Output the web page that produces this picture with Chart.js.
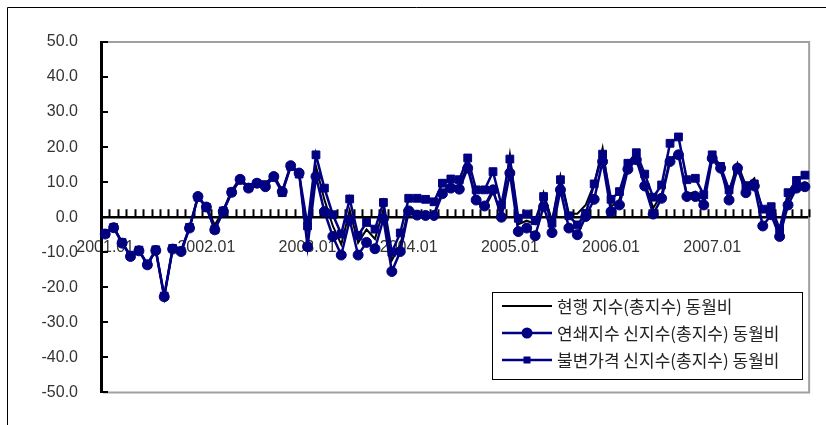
<!DOCTYPE html>
<html>
<head>
<meta charset="utf-8">
<script src="https://cdn.jsdelivr.net/npm/chart.js@4.4.1/dist/chart.umd.min.js"></script>
<style>
html, body { margin: 0; padding: 0; background: #fff; }
canvas { display: block; }
</style>
</head>
<body>
<canvas class="grafica" width="826" height="425"></canvas>
<script>
const anios = ["2001", "2002", "2003", "2004", "2005", "2006", "2007"];
const meses = ["01", "02", "03", "04", "05", "06", "07", "08", "09", "10", "11", "12"];
const etiquetas = [];
anios.forEach(a => meses.forEach(m => etiquetas.push(a + "." + m)));

const yTicks = [-50, -40, -30, -20, -10, 0, 10, 20, 30, 40, 50];

const nombres = [
    "현행 지수(총지수) 동월비",
    "연쇄지수 신지수(총지수) 동월비",
    "불변가격 신지수(총지수) 동월비"
];

// 현행 지수
const hyunhaeng = [
    -4.7, -2.9, -7.3, -11.1, -9.5, -13.5, -9.4, -22.6, -9.0, -9.7, -3.0, 5.8,
    3.0, -2.2, 2.0, 7.6, 11.2, 8.6, 9.8, 9.6, 12.0, 7.6, 14.8, 12.8,
    -7.5, 14.5, 5.0, -2.5, -7.8, 2.0, -7.3, -3.5, -6.2, 2.2, -12.3, -8.0,
    2.5, 1.0, 1.0, 1.0, 7.5, 9.0, 9.0, 15.0, 4.5, 2.5, 7.2, 1.0,
    17.8, -2.0, -1.0, -2.0, 7.0, -1.0, 11.8, 1.0, 1.0, 3.5, 9.5, 19.7,
    3.0, 5.0, 14.5, 17.5, 10.0, 2.6, 6.5, 16.5, 18.5, 6.5, 7.3, 4.8,
    17.0, 13.0, 7.5, 15.4, 9.0, 11.1, 1.5, 2.8, -4.5, 5.0, 9.0, 10.0
];
// 연쇄지수
const yeonswae = [
    -4.8, -3.0, -7.4, -11.2, -9.6, -13.6, -9.5, -22.7, -9.1, -9.8, -3.1, 5.9,
    2.9, -3.6, 1.6, 7.1, 10.8, 8.3, 9.7, 8.7, 11.6, 7.3, 14.7, 12.6,
    -8.4, 11.6, 1.6, -5.5, -10.8, -0.8, -10.8, -7.2, -9.0, -0.5, -15.5, -9.8,
    1.8, 0.6, 0.5, 0.5, 6.7, 8.3, 8.0, 14.0, 4.9, 3.2, 7.8, 0.0,
    12.6, -4.1, -3.1, -5.3, 3.0, -4.4, 7.8, -3.1, -5.0, 0.2, 5.1, 15.9,
    1.6, 3.5, 13.7, 16.4, 8.9, 0.9, 5.4, 15.9, 17.8, 5.9, 5.9, 3.5,
    16.8, 14.0, 4.9, 14.0, 7.0, 8.9, -2.5, 0.7, -5.5, 3.5, 8.3, 8.7
];
// 불변가격
const bulbyeon = [
    -4.7, -2.9, -7.2, -11.0, -9.4, -13.4, -9.3, -22.5, -8.9, -9.6, -2.9, 5.7,
    2.8, -3.5, 1.8, 7.2, 10.6, 8.5, 9.6, 9.3, 11.4, 7.0, 14.5, 12.3,
    -2.5, 17.8, 8.3, 0.7, -4.8, 5.2, -5.2, -1.5, -3.4, 4.2, -10.0, -4.5,
    5.4, 5.4, 5.1, 4.4, 9.7, 10.9, 10.7, 16.9, 7.8, 7.8, 13.0, 3.5,
    16.6, -0.3, 0.9, -1.0, 5.9, -1.7, 10.7, 0.4, -2.2, 1.1, 9.5, 18.0,
    5.1, 7.3, 15.4, 18.4, 12.3, 5.7, 9.2, 21.1, 22.9, 10.7, 11.1, 6.4,
    17.8, 14.5, 7.8, 13.5, 9.0, 9.5, 2.3, 3.0, -3.4, 7.0, 10.5, 12.0
];

const navy = "#000080";
const fuenteNum = { family: "'Liberation Sans', Arial, sans-serif", size: 16 };

// marcos, rayitas de los ejes y leyenda
const adornos = {
    id: "adornos",
    beforeDraw(chart) {
        const ctx = chart.ctx;
        ctx.save();
        ctx.strokeStyle = "#000";
        ctx.lineWidth = 1;
        ctx.beginPath();
        ctx.moveTo(7.5, 425);
        ctx.lineTo(7.5, 7.5);
        ctx.lineTo(826, 7.5);
        ctx.stroke();
        ctx.restore();
    },
    beforeDatasetsDraw(chart) {
        const ctx = chart.ctx;
        const a = chart.chartArea;
        const x = chart.scales.x;
        const y = chart.scales.y;
        ctx.save();
        ctx.strokeStyle = "#a0a0a0";
        ctx.lineWidth = 2;
        ctx.beginPath();
        ctx.moveTo(a.left + 2, a.top);
        ctx.lineTo(a.right, a.top);
        ctx.lineTo(a.right, a.bottom);
        ctx.lineTo(a.left + 2, a.bottom);
        ctx.stroke();

        ctx.strokeStyle = "#000";
        ctx.lineWidth = 2;
        ctx.beginPath();
        yTicks.forEach(v => {
            const py = Math.round(y.getPixelForValue(v));
            ctx.moveTo(a.left, py);
            ctx.lineTo(a.left + 7, py);
        });
        const y0 = y.getPixelForValue(0);
        const paso = x.getPixelForValue(1) - x.getPixelForValue(0);
        for (let i = 1; i <= etiquetas.length; i++) {
            const px = Math.round(x.getPixelForValue(i) - paso / 2) + 0.5;
            ctx.moveTo(px, y0 - 8);
            ctx.lineTo(px, y0);
        }
        ctx.stroke();
        ctx.restore();
    },
    afterDraw(chart) {
        const ctx = chart.ctx;
        const bx = 492.5, by = 292.5, bw = 310, bh = 87;
        ctx.save();
        ctx.fillStyle = "#fff";
        ctx.fillRect(bx, by, bw, bh);
        ctx.strokeStyle = "#000";
        ctx.lineWidth = 1;
        ctx.strokeRect(bx, by, bw, bh);
        ctx.font = "17px 'Noto Sans CJK KR', sans-serif";
        ctx.textBaseline = "middle";
        ctx.fillStyle = "#222";
        chart.data.datasets.forEach((ds, i) => {
            const ly = 306 + i * 27;
            ctx.strokeStyle = ds.borderColor;
            ctx.lineWidth = ds.borderWidth;
            ctx.beginPath();
            ctx.moveTo(502, ly);
            ctx.lineTo(552, ly);
            ctx.stroke();
            if (ds.pointRadius > 0) {
                ctx.fillStyle = ds.pointBackgroundColor;
                if (ds.pointStyle === "circle") {
                    ctx.beginPath();
                    ctx.arc(527, ly, 5.5, 0, Math.PI * 2);
                    ctx.fill();
                } else {
                    ctx.fillRect(523.5, ly - 3.5, 7, 7);
                }
            }
            ctx.fillStyle = "#222";
            ctx.fillText(ds.label, 557, ly + 1);
        });
        ctx.restore();
    }
};

const data = {
    labels: etiquetas,
    datasets: [
        {
            label: nombres[0],
            data: hyunhaeng,
            borderColor: "#000",
            borderWidth: 2,
            pointRadius: 0,
            pointStyle: "circle",
            order: 3
        },
        {
            label: nombres[1],
            data: yeonswae,
            borderColor: navy,
            backgroundColor: navy,
            borderWidth: 2.5,
            pointStyle: "circle",
            pointRadius: 5,
            pointBackgroundColor: navy,
            pointBorderColor: navy,
            pointBorderWidth: 1,
            order: 2
        },
        {
            label: nombres[2],
            data: bulbyeon,
            borderColor: navy,
            backgroundColor: navy,
            borderWidth: 2.5,
            pointStyle: "rect",
            pointRadius: 5.5,
            pointBackgroundColor: navy,
            pointBorderColor: navy,
            pointBorderWidth: 1,
            order: 1
        }
    ]
};

const config = {
    type: "line",
    data: data,
    plugins: [adornos],
    options: {
        responsive: false,
        animation: false,
        devicePixelRatio: 1,
        layout: { padding: { left: 0, top: 42, right: 13, bottom: 31 } },
        elements: { line: { tension: 0 } },
        plugins: {
            legend: { display: false },
            tooltip: { enabled: false }
        },
        scales: {
            x: {
                type: "category",
                position: { y: 0 },
                offset: true,
                grid: { display: false, drawTicks: false },
                border: { display: true, color: "#000", width: 2.5 },
                ticks: {
                    autoSkip: false,
                    maxRotation: 0,
                    padding: 21,
                    color: "#333",
                    font: fuenteNum,
                    callback: function (value, index) {
                        const e = etiquetas[index];
                        return e.endsWith(".01") ? e : "";
                    }
                }
            },
            y: {
                position: "left",
                min: -50,
                max: 50,
                afterFit: function (scale) { scale.width = 101; },
                afterBuildTicks: function (scale) {
                    scale.ticks = yTicks.map(v => ({ value: v }));
                },
                grid: { display: false, drawTicks: false },
                border: { display: true, color: "#000", width: 3 },
                ticks: {
                    padding: 23,
                    color: "#333",
                    font: fuenteNum,
                    callback: function (value) { return value.toFixed(1); }
                }
            }
        }
    }
};

const ctx = document.querySelector(".grafica");
const grafica = new Chart(ctx, config);
</script>
</body>
</html>
